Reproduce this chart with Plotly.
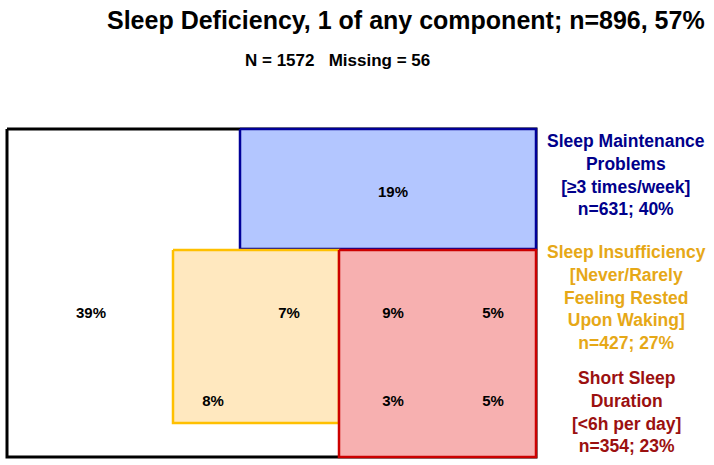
import plotly.graph_objects as go

# ---- data ----
title_text = "Sleep Deficiency, 1 of any component; n=896, 57%"
subtitle_text = "N = 1572   Missing = 56"

set_names = ["Total", "Sleep Maintenance", "Sleep Insufficiency", "Short Sleep"]
# rectangle extents of each set in diagram units (x0, x1, y0, y1)
set_x0 = [7, 240, 173, 339]
set_x1 = [536, 536, 339, 536]
set_y0 = [129, 129, 250, 250]
set_y1 = [457, 249, 423, 457]
set_fill = ["#FFFFFF", "#B3C6FF", "#FFE8BF", "#F7B0B0"]
set_line = ["#000000", "#000099", "#FFC000", "#CC0000"]
set_width = [3, 2.5, 2.5, 2.5]

region_labels = ["39%", "19%", "7%", "8%", "9%", "5%", "3%", "5%"]
region_x = [91, 393, 289, 213, 393, 493, 393, 493]
region_y = [314, 193, 314, 402, 314, 314, 402, 402]

legend_texts = [
    "Sleep Maintenance<br>Problems<br>[≥3 times/week]<br>n=631; 40%",
    "Sleep Insufficiency<br>[Never/Rarely<br>Feeling Rested<br>Upon Waking]<br>n=427; 27%",
    "Short Sleep<br>Duration<br>[<6h per day]<br>n=354; 23%",
]
legend_colors = ["#00008B", "#E6A817", "#9B1010"]
legend_x = [626, 626, 626]
legend_y = [175, 297, 412]

FONT = "Arial, Liberation Sans, sans-serif"

fig = go.Figure()
for i in range(len(set_names)):
    xs = [set_x0[i], set_x1[i], set_x1[i], set_x0[i], set_x0[i]]
    ys = [set_y0[i], set_y0[i], set_y1[i], set_y1[i], set_y0[i]]
    fig.add_trace(go.Scatter(
        x=xs, y=ys, mode="lines", fill="toself",
        fillcolor=set_fill[i],
        line=dict(color=set_line[i], width=set_width[i]),
        name=set_names[i], hoverinfo="skip", showlegend=False,
    ))

fig.add_trace(go.Scatter(
    x=region_x, y=region_y, mode="text",
    text=["<b>" + t + "</b>" for t in region_labels],
    textfont=dict(family=FONT, size=15, color="#000000"),
    showlegend=False, hoverinfo="skip",
))

for t, c, x, y in zip(legend_texts, legend_colors, legend_x, legend_y):
    fig.add_annotation(
        x=x, y=y, xref="x", yref="y", text="<b>" + t + "</b>",
        showarrow=False, align="center",
        font=dict(family=FONT, size=17.5, color=c),
    )

fig.add_annotation(
    x=406, y=20, xref="x", yref="y", text="<b>" + title_text + "</b>",
    showarrow=False, font=dict(family=FONT, size=25, color="#000000"),
)
fig.add_annotation(
    x=337, y=60, xref="x", yref="y", text="<b>" + subtitle_text + "</b>",
    showarrow=False, font=dict(family=FONT, size=17, color="#000000"),
)

fig.update_layout(
    width=714, height=465,
    margin=dict(l=0, r=0, t=0, b=0),
    plot_bgcolor="white", paper_bgcolor="white",
    xaxis=dict(range=[0, 714], visible=False, fixedrange=True),
    yaxis=dict(range=[465, 0], visible=False, fixedrange=True),
)

fig.write_html(
    "out.html",
    config={"displayModeBar": False},
    post_script="document.body.style.margin='0';document.body.style.overflow='hidden';",
)
